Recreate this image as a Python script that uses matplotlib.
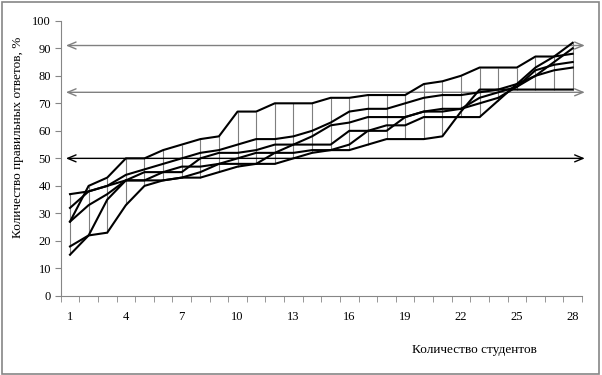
import numpy as np
import matplotlib.pyplot as plt
from matplotlib.patches import Rectangle

plt.rcParams['font.family'] = ['Liberation Serif', 'DejaVu Serif']

# -----------------------------
# data: % of correct answers per student (each series sorted)
# -----------------------------
students = list(range(1, 29))
s1 = [27, 40, 43, 50, 50, 53, 55, 57, 58, 67, 67, 70, 70, 70, 72, 72, 73, 73, 73, 77, 78, 80, 83, 83, 83, 87, 87, 88]
s2 = [32, 38, 40, 44, 46, 48, 50, 52, 53, 55, 57, 57, 58, 60, 63, 67, 68, 68, 70, 72, 73, 73, 74, 75, 77, 80, 82, 83]
s3 = [37, 38, 40, 42, 45, 45, 45, 50, 52, 52, 53, 55, 55, 58, 62, 63, 65, 65, 65, 67, 68, 68, 72, 74, 76, 80, 85, 90]
s4 = [27, 33, 37, 42, 42, 45, 47, 47, 48, 50, 52, 52, 55, 55, 55, 60, 60, 60, 65, 67, 67, 68, 70, 72, 76, 82, 84, 85]
s5 = [18, 22, 35, 42, 42, 42, 43, 45, 48, 48, 48, 52, 52, 53, 53, 55, 60, 62, 62, 65, 65, 65, 65, 71, 77, 83, 87, 92]
s6 = [15, 22, 23, 33, 40, 42, 43, 43, 45, 47, 48, 48, 50, 52, 53, 53, 55, 57, 57, 57, 58, 67, 75, 75, 75, 75, 75, 75]
series = [s1, s2, s3, s4, s5, s6]

levels = [91, 74, 50]
level_colors = ['#808080', '#808080', 'black']

xticks = [1, 4, 7, 10, 13, 16, 19, 22, 25, 28]
yticks = list(range(0, 101, 10))

# -----------------------------
# figure
# -----------------------------
fig = plt.figure(figsize=(6.02, 3.75), dpi=100)
ax = fig.add_axes([0.1008, 0.2107, 0.866, 0.734])

# high-low lines
data = np.array(series)
ax.vlines(students, data.min(axis=0), data.max(axis=0), color='#7f7f7f', lw=0.8, zorder=1)

for s in series:
    ax.plot(students, s, color='black', lw=1.5, zorder=3)

# double-headed reference arrows
for lv, c in zip(levels, level_colors):
    ax.annotate('', xy=(28.65, lv), xytext=(0.78, lv),
                arrowprops=dict(arrowstyle='<->,head_length=0.6,head_width=0.25',
                                color=c, lw=1.0, shrinkA=0, shrinkB=0),
                annotation_clip=False, zorder=2)

ax.set_xlim(0.5, 28.5)
ax.set_ylim(0, 100)
ax.set_yticks(yticks)
ax.set_xticks(xticks)
ax.set_xticks(np.arange(0.5, 29, 1), minor=True)
ax.tick_params(axis='x', which='major', length=0, pad=11, labelsize=9)
ax.tick_params(axis='x', which='minor', length=4, color='#868686', direction='out')
ax.tick_params(axis='y', length=4, color='#868686', labelsize=9, pad=3)

for side in ['top', 'right']:
    ax.spines[side].set_visible(False)
for side in ['left', 'bottom']:
    ax.spines[side].set_color('#868686')
    ax.spines[side].set_linewidth(0.8)

fig.text(0.03, 0.635, 'Количество правильных ответов, %', rotation=90,
         ha='center', va='center', fontsize=9.5)
fig.text(0.788, 0.068, 'Количество студентов', ha='center', va='center', fontsize=9.5)

# outer border
fig.patches.append(Rectangle((0.003, 0.004), 0.992, 0.99, transform=fig.transFigure,
                             fill=False, edgecolor='#868686', lw=1.2))

fig.savefig('out.png', dpi=100)
